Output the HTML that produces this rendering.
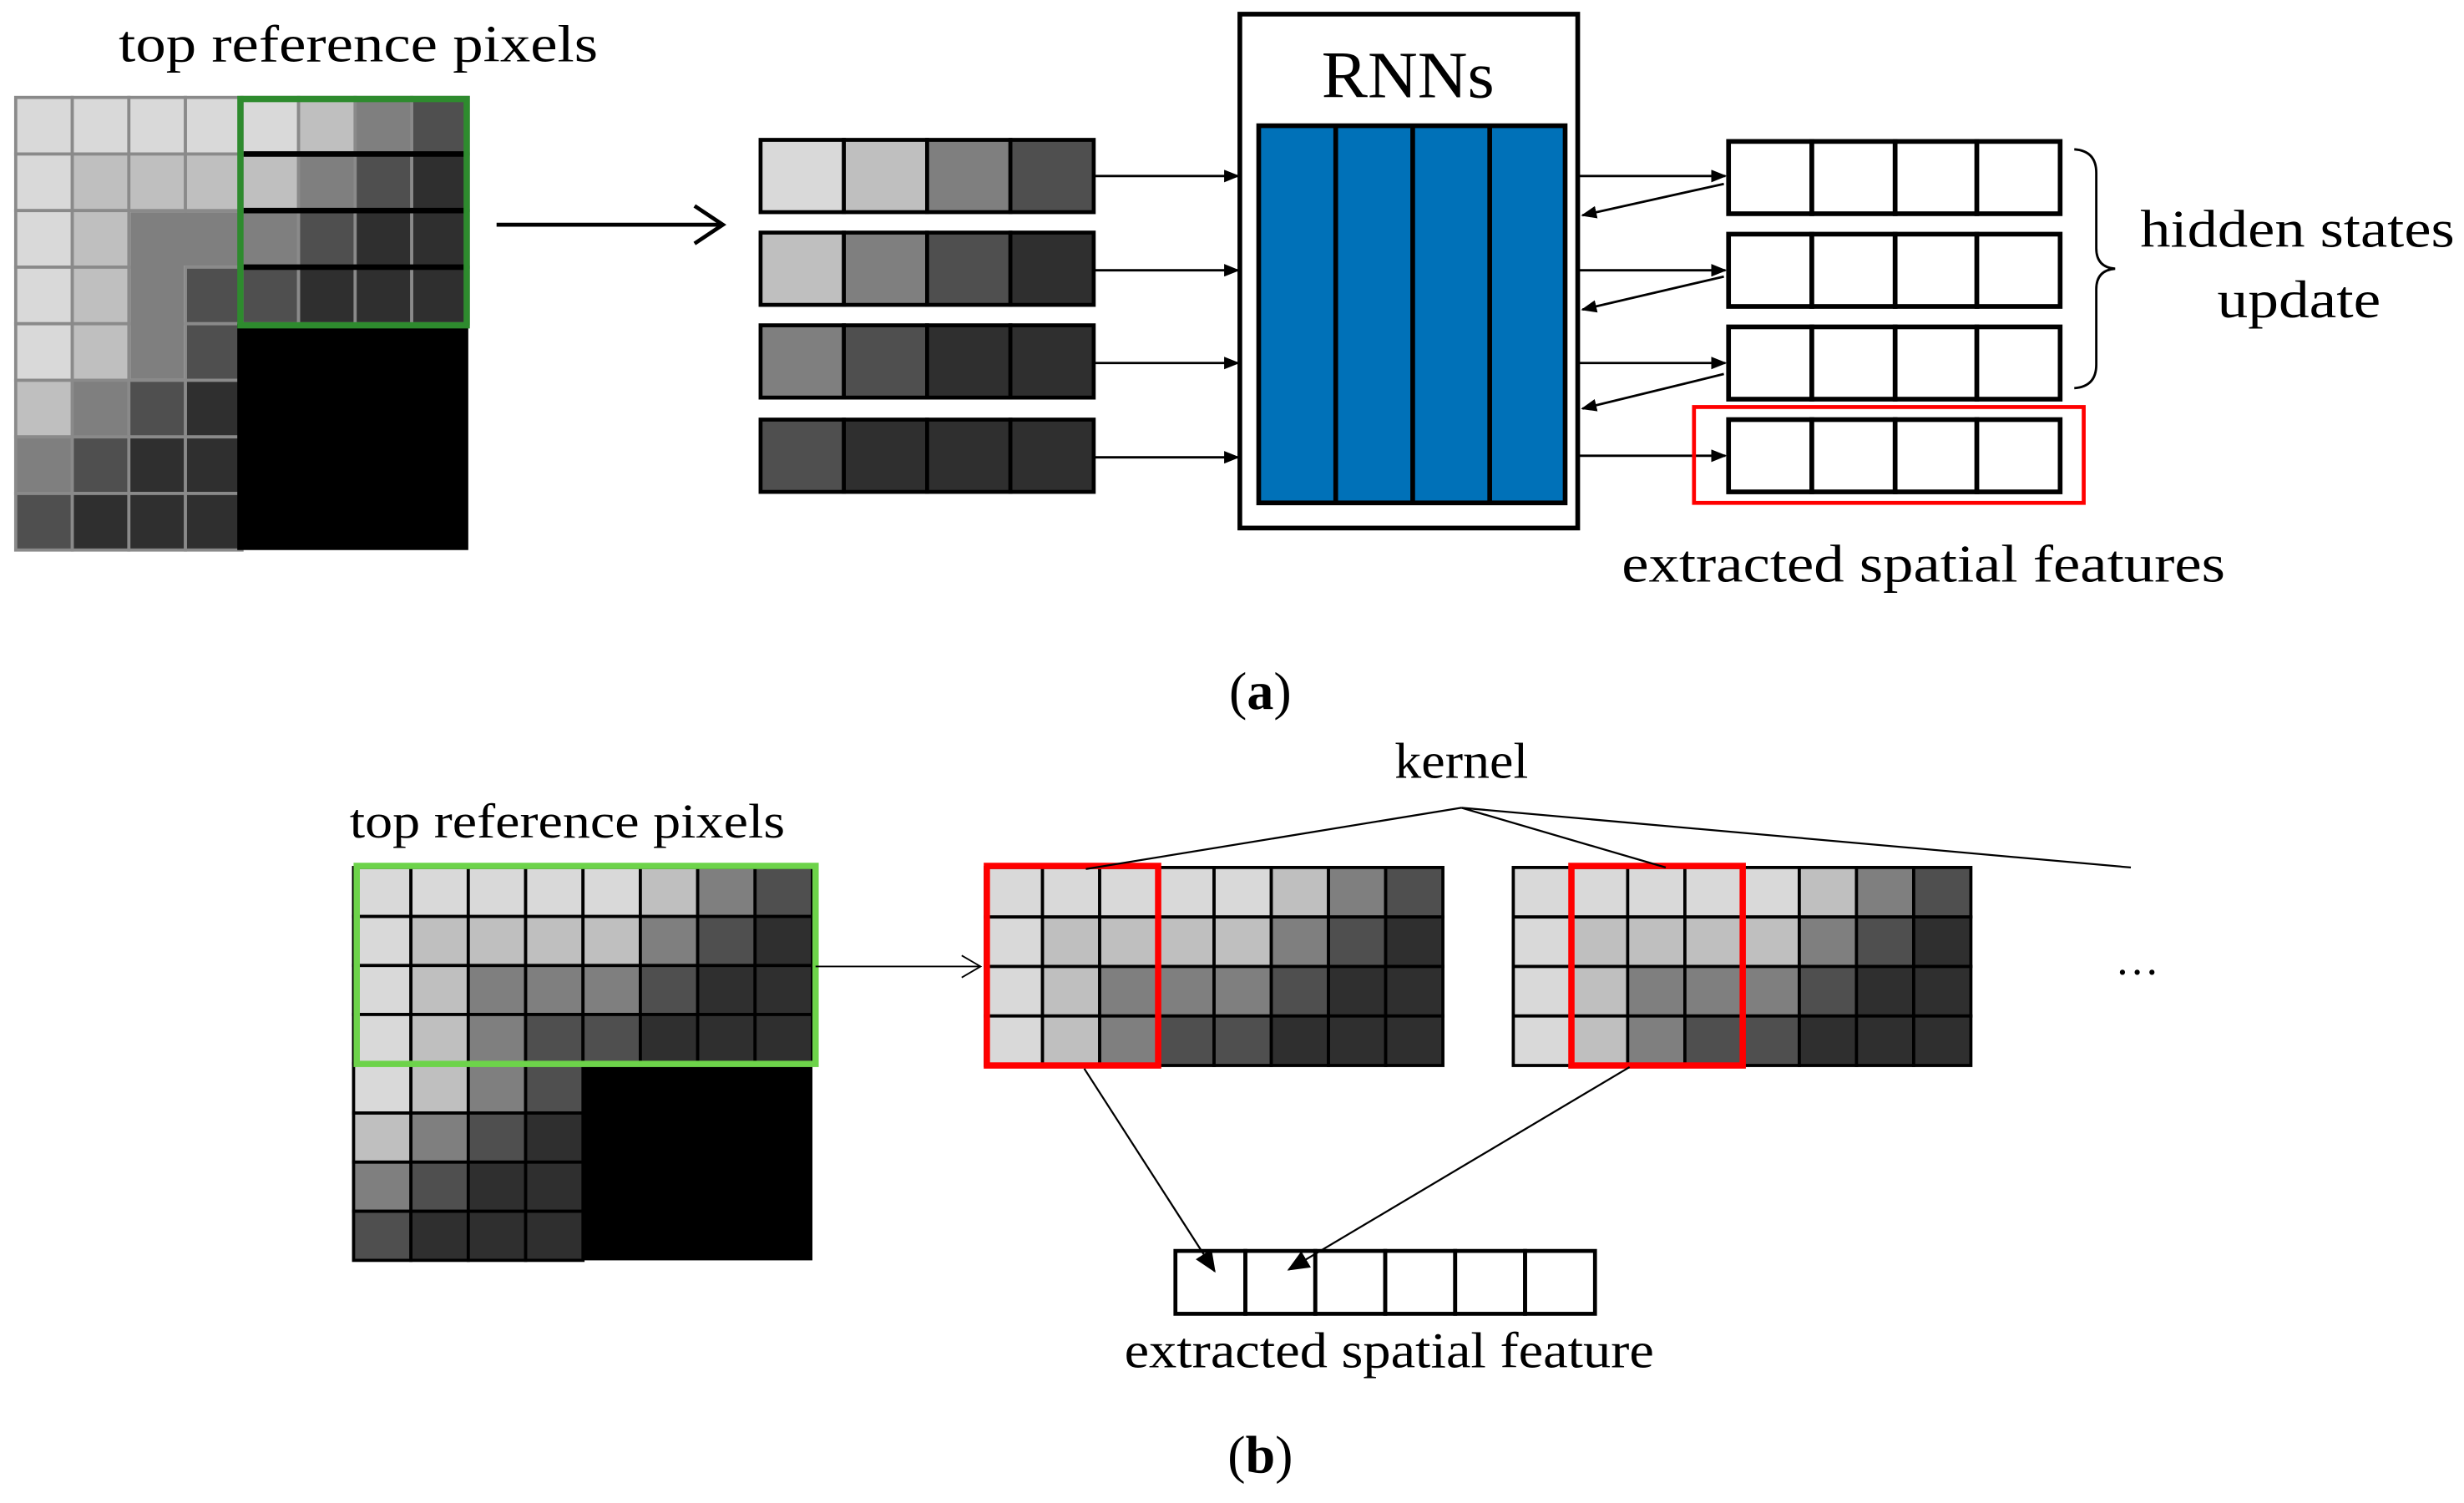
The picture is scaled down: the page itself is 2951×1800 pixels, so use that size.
<!DOCTYPE html>
<html><head><meta charset="utf-8"><style>
html,body{margin:0;padding:0;background:#fff;}
svg{display:block;}
text{font-family:"Liberation Serif","Times New Roman",serif;fill:#000;}
</style></head><body>
<svg width="2951" height="1800" viewBox="0 0 1568 956.4" preserveAspectRatio="none" xmlns="http://www.w3.org/2000/svg">
<defs>
<marker id="ah" markerWidth="10" markerHeight="8" refX="9" refY="4" orient="auto" markerUnits="userSpaceOnUse">
<path d="M0,0 L10,4 L0,8 z" fill="#000"/></marker>
<marker id="ah2" markerWidth="14" markerHeight="12" refX="13" refY="6" orient="auto" markerUnits="userSpaceOnUse">
<path d="M0,0 L14,6 L0,12 z" fill="#000"/></marker>
<g id="strip">
<g stroke="#000" stroke-width="2">
<rect x="0" y="0" width="36.4" height="31.5" fill="#d9d9d9"/><rect x="36.4" y="0" width="36.4" height="31.5" fill="#d9d9d9"/><rect x="72.8" y="0" width="36.4" height="31.5" fill="#d9d9d9"/><rect x="109.2" y="0" width="36.4" height="31.5" fill="#d9d9d9"/><rect x="145.6" y="0" width="36.4" height="31.5" fill="#d9d9d9"/><rect x="182" y="0" width="36.4" height="31.5" fill="#bfbfbf"/><rect x="218.4" y="0" width="36.4" height="31.5" fill="#7f7f7f"/><rect x="254.8" y="0" width="36.4" height="31.5" fill="#4f4f4f"/>
<rect x="0" y="31.5" width="36.4" height="31.5" fill="#d9d9d9"/><rect x="36.4" y="31.5" width="36.4" height="31.5" fill="#bfbfbf"/><rect x="72.8" y="31.5" width="36.4" height="31.5" fill="#bfbfbf"/><rect x="109.2" y="31.5" width="36.4" height="31.5" fill="#bfbfbf"/><rect x="145.6" y="31.5" width="36.4" height="31.5" fill="#bfbfbf"/><rect x="182" y="31.5" width="36.4" height="31.5" fill="#7f7f7f"/><rect x="218.4" y="31.5" width="36.4" height="31.5" fill="#4f4f4f"/><rect x="254.8" y="31.5" width="36.4" height="31.5" fill="#2f2f2f"/>
<rect x="0" y="63" width="36.4" height="31.5" fill="#d9d9d9"/><rect x="36.4" y="63" width="36.4" height="31.5" fill="#bfbfbf"/><rect x="72.8" y="63" width="36.4" height="31.5" fill="#7f7f7f"/><rect x="109.2" y="63" width="36.4" height="31.5" fill="#7f7f7f"/><rect x="145.6" y="63" width="36.4" height="31.5" fill="#7f7f7f"/><rect x="182" y="63" width="36.4" height="31.5" fill="#4f4f4f"/><rect x="218.4" y="63" width="36.4" height="31.5" fill="#2f2f2f"/><rect x="254.8" y="63" width="36.4" height="31.5" fill="#2f2f2f"/>
<rect x="0" y="94.5" width="36.4" height="31.5" fill="#d9d9d9"/><rect x="36.4" y="94.5" width="36.4" height="31.5" fill="#bfbfbf"/><rect x="72.8" y="94.5" width="36.4" height="31.5" fill="#7f7f7f"/><rect x="109.2" y="94.5" width="36.4" height="31.5" fill="#4f4f4f"/><rect x="145.6" y="94.5" width="36.4" height="31.5" fill="#4f4f4f"/><rect x="182" y="94.5" width="36.4" height="31.5" fill="#2f2f2f"/><rect x="218.4" y="94.5" width="36.4" height="31.5" fill="#2f2f2f"/><rect x="254.8" y="94.5" width="36.4" height="31.5" fill="#2f2f2f"/>
</g>
</g>
</defs>

<!-- ========== PART (a) ========== -->
<text x="228" y="39" font-size="33" text-anchor="middle" textLength="305" lengthAdjust="spacingAndGlyphs">top reference pixels</text>

<g stroke="#8a8a8a" stroke-width="2">
<rect x="10" y="62" width="36" height="36" fill="#d9d9d9"/><rect x="46" y="62" width="36" height="36" fill="#d9d9d9"/><rect x="82" y="62" width="36" height="36" fill="#d9d9d9"/><rect x="118" y="62" width="36" height="36" fill="#d9d9d9"/>
<rect x="10" y="98" width="36" height="36" fill="#d9d9d9"/><rect x="46" y="98" width="36" height="36" fill="#bfbfbf"/><rect x="82" y="98" width="36" height="36" fill="#bfbfbf"/><rect x="118" y="98" width="36" height="36" fill="#bfbfbf"/>
<rect x="10" y="134" width="36" height="36" fill="#d9d9d9"/><rect x="46" y="134" width="36" height="36" fill="#bfbfbf"/>
<rect x="10" y="170" width="36" height="36" fill="#d9d9d9"/><rect x="46" y="170" width="36" height="36" fill="#bfbfbf"/><rect x="118" y="170" width="36" height="36" fill="#4f4f4f"/>
<rect x="10" y="206" width="36" height="36" fill="#d9d9d9"/><rect x="46" y="206" width="36" height="36" fill="#bfbfbf"/><rect x="118" y="206" width="36" height="36" fill="#4f4f4f"/>
<rect x="10" y="242" width="36" height="36" fill="#bfbfbf"/><rect x="46" y="242" width="36" height="36" fill="#7f7f7f"/><rect x="82" y="242" width="36" height="36" fill="#4f4f4f"/><rect x="118" y="242" width="36" height="36" fill="#2f2f2f"/>
<rect x="10" y="278" width="36" height="36" fill="#7f7f7f"/><rect x="46" y="278" width="36" height="36" fill="#4f4f4f"/><rect x="82" y="278" width="36" height="36" fill="#2f2f2f"/><rect x="118" y="278" width="36" height="36" fill="#2f2f2f"/>
<rect x="10" y="314" width="36" height="36" fill="#4f4f4f"/><rect x="46" y="314" width="36" height="36" fill="#2f2f2f"/><rect x="82" y="314" width="36" height="36" fill="#2f2f2f"/><rect x="118" y="314" width="36" height="36" fill="#2f2f2f"/>
<rect x="154" y="62" width="36" height="36" fill="#d9d9d9"/><rect x="190" y="62" width="36" height="36" fill="#bfbfbf"/><rect x="226" y="62" width="36" height="36" fill="#7f7f7f"/><rect x="262" y="62" width="36" height="36" fill="#4f4f4f"/>
<rect x="154" y="98" width="36" height="36" fill="#bfbfbf"/><rect x="190" y="98" width="36" height="36" fill="#7f7f7f"/><rect x="226" y="98" width="36" height="36" fill="#4f4f4f"/><rect x="262" y="98" width="36" height="36" fill="#2f2f2f"/>
<rect x="154" y="134" width="36" height="36" fill="#7f7f7f"/><rect x="190" y="134" width="36" height="36" fill="#4f4f4f"/><rect x="226" y="134" width="36" height="36" fill="#2f2f2f"/><rect x="262" y="134" width="36" height="36" fill="#2f2f2f"/>
<rect x="154" y="170" width="36" height="36" fill="#4f4f4f"/><rect x="190" y="170" width="36" height="36" fill="#2f2f2f"/><rect x="226" y="170" width="36" height="36" fill="#2f2f2f"/><rect x="262" y="170" width="36" height="36" fill="#2f2f2f"/>
</g>
<!-- merged gray region -->
<path d="M83,135 L153,135 L153,169 L117,169 L117,241 L83,241 Z" fill="#7f7f7f"/>
<rect x="151" y="206" width="147" height="144" fill="#000"/>
<g stroke="#000" stroke-width="3.5">
<line x1="155" y1="98" x2="296" y2="98"/><line x1="155" y1="134" x2="296" y2="134"/><line x1="155" y1="170" x2="296" y2="170"/>
</g>
<rect x="153" y="63" width="144" height="144" fill="none" stroke="#2e8b2e" stroke-width="4"/>

<line x1="316" y1="143" x2="458" y2="143" stroke="#000" stroke-width="2.5"/>
<path d="M442,131 L460,143 L442,155" fill="none" stroke="#000" stroke-width="2.5"/>

<g stroke="#000" stroke-width="2.5">
<rect x="484" y="89" width="53" height="46" fill="#d9d9d9"/><rect x="537" y="89" width="53" height="46" fill="#bfbfbf"/><rect x="590" y="89" width="53" height="46" fill="#7f7f7f"/><rect x="643" y="89" width="53" height="46" fill="#4f4f4f"/>
<rect x="484" y="148" width="53" height="46" fill="#bfbfbf"/><rect x="537" y="148" width="53" height="46" fill="#7f7f7f"/><rect x="590" y="148" width="53" height="46" fill="#4f4f4f"/><rect x="643" y="148" width="53" height="46" fill="#2f2f2f"/>
<rect x="484" y="207" width="53" height="46" fill="#7f7f7f"/><rect x="537" y="207" width="53" height="46" fill="#4f4f4f"/><rect x="590" y="207" width="53" height="46" fill="#2f2f2f"/><rect x="643" y="207" width="53" height="46" fill="#2f2f2f"/>
<rect x="484" y="267" width="53" height="46" fill="#4f4f4f"/><rect x="537" y="267" width="53" height="46" fill="#2f2f2f"/><rect x="590" y="267" width="53" height="46" fill="#2f2f2f"/><rect x="643" y="267" width="53" height="46" fill="#2f2f2f"/>
</g>
<g stroke="#000" stroke-width="1.5">
<line x1="696" y1="112" x2="788" y2="112" marker-end="url(#ah)"/>
<line x1="696" y1="172" x2="788" y2="172" marker-end="url(#ah)"/>
<line x1="696" y1="231" x2="788" y2="231" marker-end="url(#ah)"/>
<line x1="696" y1="291" x2="788" y2="291" marker-end="url(#ah)"/>
</g>

<rect x="789" y="9" width="215" height="327" fill="#fff" stroke="#000" stroke-width="3"/>
<text x="896" y="62" font-size="42" text-anchor="middle" textLength="110" lengthAdjust="spacingAndGlyphs">RNNs</text>
<rect x="801" y="80" width="195" height="240" fill="#0071b8" stroke="#000" stroke-width="3"/>
<g stroke="#000" stroke-width="3">
<line x1="850" y1="80" x2="850" y2="320"/><line x1="899" y1="80" x2="899" y2="320"/><line x1="948" y1="80" x2="948" y2="320"/>
</g>

<g stroke="#000" stroke-width="1.5">
<line x1="1005" y1="112" x2="1098" y2="112" marker-end="url(#ah)"/>
<line x1="1005" y1="172" x2="1098" y2="172" marker-end="url(#ah)"/>
<line x1="1005" y1="231" x2="1098" y2="231" marker-end="url(#ah)"/>
<line x1="1005" y1="290" x2="1098" y2="290" marker-end="url(#ah)"/>
<line x1="1097" y1="117" x2="1007" y2="137" marker-end="url(#ah)"/>
<line x1="1097" y1="176" x2="1007" y2="197" marker-end="url(#ah)"/>
<line x1="1097" y1="238" x2="1007" y2="260" marker-end="url(#ah)"/>
</g>

<g stroke="#000" stroke-width="3" fill="#fff">
<rect x="1100" y="90" width="53" height="46"/><rect x="1153" y="90" width="53" height="46"/><rect x="1206" y="90" width="52" height="46"/><rect x="1258" y="90" width="53" height="46"/>
<rect x="1100" y="149" width="53" height="46"/><rect x="1153" y="149" width="53" height="46"/><rect x="1206" y="149" width="52" height="46"/><rect x="1258" y="149" width="53" height="46"/>
<rect x="1100" y="208" width="53" height="46"/><rect x="1153" y="208" width="53" height="46"/><rect x="1206" y="208" width="52" height="46"/><rect x="1258" y="208" width="53" height="46"/>
<rect x="1100" y="267" width="53" height="46"/><rect x="1153" y="267" width="53" height="46"/><rect x="1206" y="267" width="52" height="46"/><rect x="1258" y="267" width="53" height="46"/>
</g>
<rect x="1078" y="259" width="248" height="61" fill="none" stroke="#f00" stroke-width="2.5"/>

<path d="M1320,95 Q1334,96 1334,110 L1334,158 Q1334,170 1346,171 Q1334,172 1334,184 L1334,232 Q1334,246 1320,247" fill="none" stroke="#000" stroke-width="1.5"/>
<text x="1462" y="157" font-size="34" text-anchor="middle" textLength="200" lengthAdjust="spacingAndGlyphs">hidden states</text>
<text x="1463" y="202" font-size="34" text-anchor="middle" textLength="104" lengthAdjust="spacingAndGlyphs">update</text>
<text x="1224" y="370" font-size="34" text-anchor="middle" textLength="384" lengthAdjust="spacingAndGlyphs">extracted spatial features</text>

<text x="802" y="451" font-size="34" text-anchor="middle">(<tspan font-weight="bold">a</tspan>)</text>

<!-- ========== PART (b) ========== -->
<text x="361" y="533" font-size="31" text-anchor="middle" textLength="277" lengthAdjust="spacingAndGlyphs">top reference pixels</text>
<use href="#strip" transform="translate(225,552) scale(1.0027,0.99)"/>
<g stroke="#000" stroke-width="2">
<rect x="225" y="677" width="36.5" height="31.25" fill="#d9d9d9"/><rect x="261.5" y="677" width="36.5" height="31.25" fill="#bfbfbf"/><rect x="298" y="677" width="36.5" height="31.25" fill="#7f7f7f"/><rect x="334.5" y="677" width="36.5" height="31.25" fill="#4f4f4f"/>
<rect x="225" y="708.25" width="36.5" height="31.25" fill="#bfbfbf"/><rect x="261.5" y="708.25" width="36.5" height="31.25" fill="#7f7f7f"/><rect x="298" y="708.25" width="36.5" height="31.25" fill="#4f4f4f"/><rect x="334.5" y="708.25" width="36.5" height="31.25" fill="#2f2f2f"/>
<rect x="225" y="739.5" width="36.5" height="31.25" fill="#7f7f7f"/><rect x="261.5" y="739.5" width="36.5" height="31.25" fill="#4f4f4f"/><rect x="298" y="739.5" width="36.5" height="31.25" fill="#2f2f2f"/><rect x="334.5" y="739.5" width="36.5" height="31.25" fill="#2f2f2f"/>
<rect x="225" y="770.75" width="36.5" height="31.25" fill="#4f4f4f"/><rect x="261.5" y="770.75" width="36.5" height="31.25" fill="#2f2f2f"/><rect x="298" y="770.75" width="36.5" height="31.25" fill="#2f2f2f"/><rect x="334.5" y="770.75" width="36.5" height="31.25" fill="#2f2f2f"/>
</g>
<rect x="371" y="677" width="146" height="125" fill="#000"/>
<rect x="227" y="551" width="292" height="126" fill="none" stroke="#6dd34a" stroke-width="4"/>

<line x1="519" y1="615" x2="623" y2="615" stroke="#000" stroke-width="1"/>
<path d="M612,608 L624,615 L612,622" fill="none" stroke="#000" stroke-width="1"/>

<use href="#strip" transform="translate(627,552)"/>
<use href="#strip" transform="translate(963,552)"/>
<rect x="628" y="551" width="109" height="127" fill="none" stroke="#f00" stroke-width="4"/>
<rect x="1000" y="551" width="109" height="127" fill="none" stroke="#f00" stroke-width="4"/>

<text x="930" y="495" font-size="32" text-anchor="middle" textLength="85" lengthAdjust="spacingAndGlyphs">kernel</text>
<g stroke="#000" stroke-width="1.2">
<line x1="930" y1="514" x2="691" y2="553"/>
<line x1="930" y1="514" x2="1060" y2="552"/>
<line x1="930" y1="514" x2="1356" y2="552"/>
</g>
<text x="1360" y="620" font-size="28" text-anchor="middle">…</text>

<g stroke="#000" stroke-width="1.2">
<line x1="690" y1="680" x2="773" y2="809" marker-end="url(#ah2)"/>
<line x1="1037" y1="679" x2="820" y2="808" marker-end="url(#ah2)"/>
</g>
<g stroke="#000" stroke-width="2.5" fill="none">
<rect x="748" y="796" width="44.5" height="40"/><rect x="792.5" y="796" width="44.5" height="40"/><rect x="837" y="796" width="44.5" height="40"/><rect x="881.5" y="796" width="44.5" height="40"/><rect x="926" y="796" width="44.5" height="40"/><rect x="970.5" y="796" width="44.5" height="40"/>
</g>
<text x="884" y="870" font-size="32" text-anchor="middle" textLength="337" lengthAdjust="spacingAndGlyphs">extracted spatial feature</text>

<text x="802" y="937" font-size="34" text-anchor="middle">(<tspan font-weight="bold">b</tspan>)</text>
</svg>
</body></html>
